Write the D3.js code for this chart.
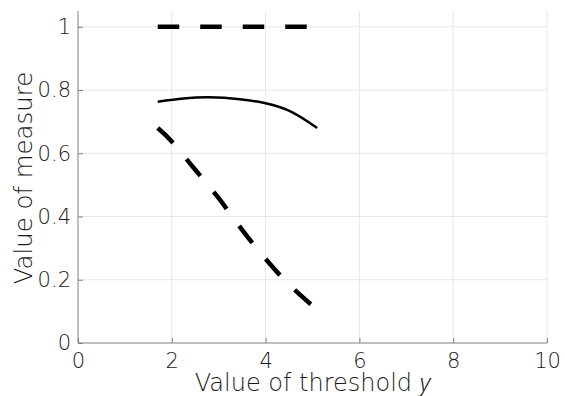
<!DOCTYPE html>
<html>
<head>
<meta charset="utf-8">
<script src="https://cdn.jsdelivr.net/npm/d3@7"></script>
<style>
body { margin: 0; background: #fff; }
text { font-family: "DejaVu Sans", "Noto Sans", sans-serif; }
</style>
</head>
<body>
<script>
// threshold values
var gammaTop = [1.7, 5.1];
var measureTop = [1, 1];

var gammaSolid = [1.7, 2.25, 2.8, 3.45, 4.0, 4.55, 5.1];
var measureSolid = [0.763, 0.773, 0.777, 0.771, 0.758, 0.731, 0.680];

var gammaFall = [1.7, 2.0, 2.5, 3.0, 3.5, 4.0, 4.5, 5.1];
var measureFall = [0.68, 0.637, 0.548, 0.458, 0.358, 0.266, 0.185, 0.105];

var xTicks = [0, 2, 4, 6, 8, 10];
var yTicks = [0, 0.2, 0.4, 0.6, 0.8, 1];

var width = 565, height = 396;
var mLeft = 78, mRight = 547, mTop = 11, mBottom = 343;

var svg = d3.select("body").append("svg")
    .attr("width", width)
    .attr("height", height);

var x = d3.scaleLinear().domain([0, 10]).range([mLeft, mRight]);
var y = d3.scaleLinear().domain([0, 1.05]).range([mBottom, mTop]);

// grid
svg.append("g").selectAll("line")
    .data(xTicks.slice(1))
    .enter().append("line")
    .attr("x1", function(d) { return x(d); })
    .attr("x2", function(d) { return x(d); })
    .attr("y1", mBottom)
    .attr("y2", mTop)
    .style("stroke", "#e6e6e6")
    .style("stroke-width", 1);

svg.append("g").selectAll("line")
    .data(yTicks.slice(1))
    .enter().append("line")
    .attr("x1", mLeft)
    .attr("x2", mRight)
    .attr("y1", function(d) { return y(d); })
    .attr("y2", function(d) { return y(d); })
    .style("stroke", "#e6e6e6")
    .style("stroke-width", 1);

// axes
var x_axis = d3.axisBottom(x).tickValues(xTicks).tickSize(-5)
    .tickFormat(d3.format("d"));
var y_axis = d3.axisLeft(y).tickValues(yTicks).tickSize(-5)
    .tickFormat(function(d) { return d === 0 || d === 1 ? d : d3.format(".1f")(d); });

var gx = svg.append("g")
    .attr("transform", "translate(0," + mBottom + ")")
    .call(x_axis);
var gy = svg.append("g")
    .attr("transform", "translate(" + mLeft + ",0)")
    .call(y_axis);

[gx, gy].forEach(function(g) {
    g.select(".domain").remove();
    g.selectAll(".tick line").style("stroke", "#808080");
    g.selectAll(".tick text")
        .style("font-size", "21px")
        .style("font-weight", 200)
        .style("fill", "#1a1a1a");
});
gx.selectAll(".tick text").attr("dy", "0.71em").attr("y", 10);
gy.selectAll(".tick text").attr("x", -7);

svg.append("line")
    .attr("x1", mLeft).attr("x2", mRight)
    .attr("y1", mBottom).attr("y2", mBottom)
    .style("stroke", "#808080").style("stroke-width", 1);
svg.append("line")
    .attr("x1", mLeft).attr("x2", mLeft)
    .attr("y1", mBottom).attr("y2", mTop)
    .style("stroke", "#808080").style("stroke-width", 1);

// labels
svg.append("text")
    .attr("x", (mLeft + mRight) / 2)
    .attr("y", 391)
    .attr("text-anchor", "middle")
    .style("font-size", "24px")
    .style("font-weight", 200)
    .style("fill", "#1a1a1a")
    .text("Value of threshold ")
    .append("tspan")
    .style("font-family", "'Noto Sans', sans-serif")
    .style("font-style", "italic")
    .style("font-weight", 300)
    .text("y");

svg.append("text")
    .attr("transform", "translate(32,178) rotate(-90)")
    .attr("text-anchor", "middle")
    .style("font-size", "24.4px")
    .style("font-weight", 200)
    .style("fill", "#1a1a1a")
    .text("Value of measure");

// series
function toPts(xs, ys) {
    return xs.map(function(v, i) { return [v, ys[i]]; });
}
var line = d3.line()
    .x(function(d) { return x(d[0]); })
    .y(function(d) { return y(d[1]); })
    .curve(d3.curveNatural);

svg.append("path")
    .attr("d", line(toPts(gammaTop, measureTop)))
    .style("fill", "none").style("stroke", "#000")
    .style("stroke-width", 4.5)
    .style("stroke-dasharray", "21.5,21");

svg.append("path")
    .attr("d", line(toPts(gammaSolid, measureSolid)))
    .style("fill", "none").style("stroke", "#000")
    .style("stroke-width", 2.5);

svg.append("path")
    .attr("d", line(toPts(gammaFall, measureFall)))
    .style("fill", "none").style("stroke", "#000")
    .style("stroke-width", 4.5)
    .style("stroke-dasharray", "21.5,21");
</script>
</body>
</html>
